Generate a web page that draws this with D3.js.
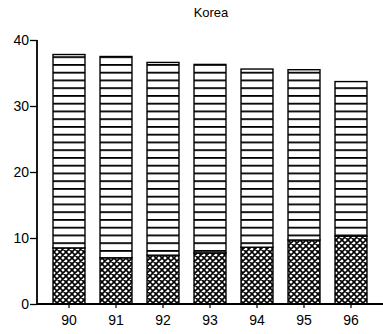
<!DOCTYPE html>
<html>
    <head>
        <title>Korea</title>
        <script src="https://d3js.org/d3.v7.min.js"></script>
        <style>
            body { margin: 0; background: #fff; }
            text { font-family: "Liberation Sans", Arial, sans-serif; fill: #000; }
        </style>
    </head>
    <body>
        <div class="chart"></div>
        <script>
            let years = ["90", "91", "92", "93", "94", "95", "96"];
            let lower = [8.5, 7.0, 7.4, 7.75, 8.6, 9.7, 10.3];
            let upper = [29.3, 30.5, 29.2, 28.55, 27.0, 25.8, 23.4];
            let yTicks = [0, 10, 20, 30, 40];

            let width = 383;
            let height = 334;

            let svg = d3.select('.chart')
                .append('svg')
                .attr("width", width)
                .attr("height", height);

            let defs = svg.append("defs");

            // cross hatch for the lower part
            let cross = defs.append("pattern")
                .attr("id", "cross")
                .attr("patternUnits", "userSpaceOnUse")
                .attr("width", 6)
                .attr("height", 6);
            cross.append("rect").attr("width", 6).attr("height", 6).style("fill", "#fff");
            cross.append("path")
                .attr("d", "M-1,5 L1,7 M0,0 L6,6 M5,-1 L7,1 M-1,1 L1,-1 M0,6 L6,0 M5,7 L7,5")
                .style("stroke", "#000")
                .style("stroke-width", 1.6);

            // horizontal lines for the upper part
            let lines = defs.append("pattern")
                .attr("id", "lines")
                .attr("patternUnits", "userSpaceOnUse")
                .attr("y", 2)
                .attr("width", 10)
                .attr("height", 7.75);
            lines.append("rect").attr("width", 10).attr("height", 7.75).style("fill", "#fff");
            lines.append("rect").attr("y", 0).attr("width", 10).attr("height", 1.8).style("fill", "#000");

            let x = d3.scaleBand()
                .domain(years)
                .range([45.5, 374.5])
                .paddingInner(0.32)
                .paddingOuter(0.16);

            let y = d3.scaleLinear()
                .domain([0, 40])
                .range([304, 40]);

            let rows = years.map(function (d, i) { return {year: d, lower: lower[i], upper: upper[i]}; });
            let stacked = d3.stack().keys(["lower", "upper"])(rows);
            let fills = {lower: "url(#cross)", upper: "url(#lines)"};

            svg.selectAll("g.layer")
                .data(stacked)
                .enter()
                .append("g")
                .attr("class", "layer")
                .style("fill", function (d) { return fills[d.key]; })
                .selectAll("rect")
                .data(function (d) { return d; })
                .enter()
                .append("rect")
                .attr("x", function (d) { return x(d.data.year); })
                .attr("width", x.bandwidth())
                .attr("y", function (d) { return y(d[1]); })
                .attr("height", function (d) { return y(d[0]) - y(d[1]); })
                .style("stroke", "#000")
                .style("stroke-width", 1.4);

            let yAxis = svg.append("g")
                .attr("transform", "translate(37,0)")
                .call(d3.axisLeft(y).tickValues(yTicks).tickSize(7).tickPadding(1));
            yAxis.select(".domain").attr("d", "M0," + y(40) + "V" + y(0)).style("stroke-width", 1.8);
            yAxis.selectAll("line").style("stroke-width", 1.3);
            yAxis.selectAll("text").style("font-size", "14px");

            let xAxis = svg.append("g")
                .attr("transform", "translate(0," + y(0) + ")")
                .call(d3.axisBottom(x).tickSize(4).tickPadding(7));
            xAxis.select(".domain").attr("d", "M37,0H383").style("stroke-width", 1.8);
            xAxis.selectAll("line").style("stroke-width", 1.2);
            xAxis.selectAll("text").style("font-size", "14px");

            svg.append("text")
                .attr("x", 211)
                .attr("y", 17)
                .style("text-anchor", "middle")
                .style("font-size", "13px")
                .text("Korea");
        </script>
    </body>
</html>
